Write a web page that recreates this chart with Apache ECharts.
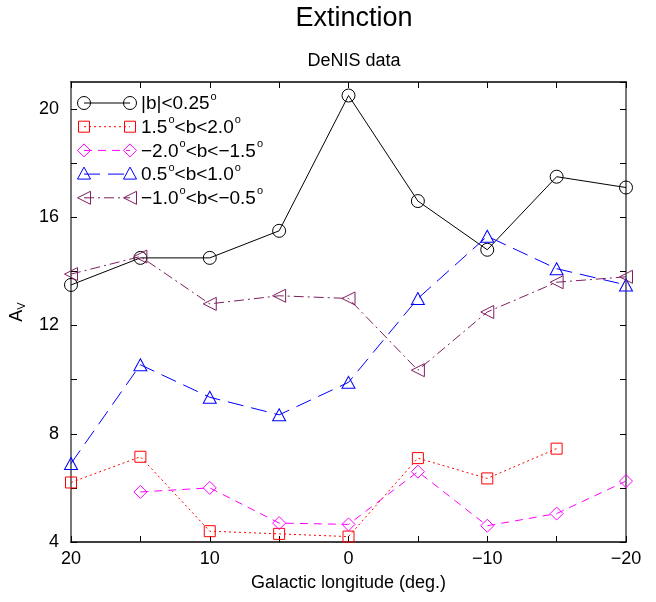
<!DOCTYPE html>
<html>
<head>
<meta charset="utf-8">
<script src="https://cdn.jsdelivr.net/npm/echarts@6/dist/echarts.min.js"></script>
<style>
html,body{margin:0;padding:0;background:#fff;}
#chart{width:656px;height:602px;}
</style>
</head>
<body>
<div id="chart"></div>
<script>
// ---- data ----
const longitudes = [20, 15, 10, 5, 0, -5, -10, -15, -20];
const bAbsLt025 = [13.5, 14.5, 14.5, 15.5, 20.5, 16.6, 14.8, 17.5, 17.1];
const b15to20 = [6.2, 7.15, 4.4, 4.3, 4.2, 7.1, 6.35, 7.45, null];
const bm20tom15 = [null, 5.85, 6.0, 4.7, 4.65, 6.6, 4.6, 5.05, 6.25];
const b05to10 = [6.9, 10.55, 9.35, 8.7, 9.9, 13.0, 15.3, 14.1, 13.5];
const bm10tom05 = [13.9, 14.55, 12.8, 13.1, 13.0, 10.35, 12.5, 13.6, 13.8];
const seriesNames = ['|b|<0.25°', '1.5°<b<2.0°', '−2.0°<b<−1.5°', '0.5°<b<1.0°', '−1.0°<b<−0.5°'];
const legendRich = [
  '{t||b|<0.25}{s|o}',
  '{t|1.5}{s|o}{t|<b<2.0}{s|o}',
  '{t|−2.0}{s|o}{t|<b<−1.5}{s|o}',
  '{t|0.5}{s|o}{t|<b<1.0}{s|o}',
  '{t|−1.0}{s|o}{t|<b<−0.5}{s|o}'
];
const xTickLabels = {20: '20', 10: '10', 0: '0', '-10': '−10', '-20': '−20'};
const yTickLabels = {4: '4', 8: '8', 12: '12', 16: '16', 20: '20'};

const FONT = 'Liberation Sans, Arial, Helvetica, sans-serif';
const colors = ['#000000', '#ff0000', '#ff00ff', '#0000ff', '#7f1f5f'];
const dashes = ['solid', [2, 3], [8, 6], [16, 8], [10, 4, 2, 4]];
const leftTri = 'path://M0,6.5 L13,0 L13,13 Z';
const symbols = ['circle', 'rect', 'diamond', 'triangle', leftTri];
const symSizes = [13, 11, 13, [13, 12], 13];
const seriesData = [bAbsLt025, b15to20, bm20tom15, b05to10, bm10tom05];

const series = seriesData.map((vals, i) => ({
  name: seriesNames[i],
  type: 'line',
  data: longitudes.map((x, j) => [x, vals[j]]),
  symbol: symbols[i],
  symbolSize: symSizes[i],
  showAllSymbol: true,
  connectNulls: false,
  lineStyle: {color: colors[i], width: 1, type: dashes[i]},
  itemStyle: {color: 'transparent', borderColor: colors[i], borderWidth: 1},
  emphasis: {disabled: true},
  animation: false,
  z: 3
}));

// legend drawn as graphic (symbol - line - symbol  text)
const legendX1 = 84, legendX2 = 130, legendTextX = 141, legendY0 = 103, legendDy = 23.7;
const graphics = [];
function symbolShape(i, cx, cy) {
  const c = colors[i];
  const st = {fill: 'none', stroke: c, lineWidth: 1};
  if (i === 0) return {type: 'circle', shape: {cx: cx, cy: cy, r: 6.5}, style: st};
  if (i === 1) return {type: 'rect', shape: {x: cx - 5.5, y: cy - 5.5, width: 11, height: 11}, style: st};
  if (i === 2) return {type: 'polygon', shape: {points: [[cx, cy - 6.5], [cx + 6.5, cy], [cx, cy + 6.5], [cx - 6.5, cy]]}, style: st};
  if (i === 3) return {type: 'polygon', shape: {points: [[cx, cy - 7], [cx + 6.5, cy + 5], [cx - 6.5, cy + 5]]}, style: st};
  return {type: 'polygon', shape: {points: [[cx - 6.5, cy], [cx + 6.5, cy - 6.5], [cx + 6.5, cy + 6.5]]}, style: st};
}
for (let i = 0; i < 5; i++) {
  const y = legendY0 + i * legendDy;
  graphics.push({type: 'line', shape: {x1: legendX1, y1: y, x2: legendX2, y2: y},
    style: {stroke: colors[i], lineWidth: 1, lineDash: dashes[i] === 'solid' ? null : dashes[i]}, z: 10});
  graphics.push(Object.assign(symbolShape(i, legendX1, y), {z: 10}));
  graphics.push(Object.assign(symbolShape(i, legendX2, y), {z: 10}));
  graphics.push({type: 'text', x: legendTextX, y: y + 1, z: 10,
    style: {text: legendRich[i], fill: '#000', verticalAlign: 'middle', align: 'left',
      rich: {t: {fontSize: 19, lineHeight: 26, fontFamily: FONT, fill: '#000'},
             s: {fontSize: 11, lineHeight: 11, fontFamily: FONT, fill: '#000', verticalAlign: 'top', padding: [0, 0, 0, 1]}}}});
}

const tickStyle = {show: true, inside: true, length: 6, lineStyle: {color: '#000', width: 1}};

const option = {
  backgroundColor: '#fff',
  animation: false,
  title: [
    {text: 'Extinction', left: 349, top: 0, textAlign: 'center',
     textStyle: {fontFamily: FONT, fontSize: 27, fontWeight: 'normal', color: '#000'}},
    {text: 'DeNIS data', left: 349, top: 47, textAlign: 'center',
     textStyle: {fontFamily: FONT, fontSize: 18, fontWeight: 'normal', color: '#000'}}
  ],
  grid: {left: 71, right: 30, top: 82, bottom: 60, containLabel: false},
  xAxis: [
    {type: 'value', inverse: true, min: -20, max: 20, interval: 5, position: 'bottom',
     name: 'Galactic longitude (deg.)', nameLocation: 'middle', nameGap: 32,
     nameTextStyle: {fontFamily: FONT, fontSize: 18, color: '#000'},
     axisLine: {show: true, onZero: false, lineStyle: {color: '#000', width: 1.5}},
     axisTick: tickStyle,
     axisLabel: {margin: 8, fontFamily: FONT, fontSize: 18, color: '#000',
       formatter: v => (xTickLabels[v] !== undefined ? xTickLabels[v] : '')},
     splitLine: {show: false}},
    {type: 'value', inverse: true, min: -20, max: 20, interval: 5, position: 'top',
     axisLine: {show: true, onZero: false, lineStyle: {color: '#000', width: 1.5}},
     axisTick: tickStyle, axisLabel: {show: false}, splitLine: {show: false}}
  ],
  yAxis: [
    {type: 'value', min: 4, max: 21, interval: 2, position: 'left',
     name: '{a|A}{v|V}', nameLocation: 'middle', nameGap: 44, nameRotate: 90,
     nameTextStyle: {rich: {a: {fontFamily: FONT, fontSize: 18, color: '#000'},
                            v: {fontFamily: FONT, fontSize: 11, color: '#000', verticalAlign: 'bottom', padding: [8, 0, 0, 0]}}},
     axisLine: {show: true, onZero: false, lineStyle: {color: '#777', width: 2}},
     axisTick: tickStyle,
     axisLabel: {margin: 12, fontFamily: FONT, fontSize: 18, color: '#000', showMaxLabel: false,
       formatter: v => (yTickLabels[v] !== undefined ? yTickLabels[v] : '')},
     splitLine: {show: false}},
    {type: 'value', min: 4, max: 21, interval: 2, position: 'right',
     axisLine: {show: true, onZero: false, lineStyle: {color: '#777', width: 2}},
     axisTick: tickStyle, axisLabel: {show: false}, splitLine: {show: false}}
  ],
  graphic: graphics,
  series: series
};

const chart = echarts.init(document.getElementById('chart'), null, {renderer: 'canvas'});
chart.setOption(option);
</script>
</body>
</html>
